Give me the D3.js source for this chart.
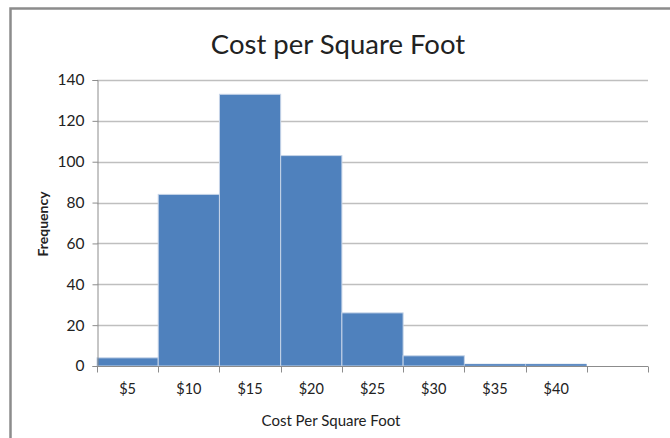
<!DOCTYPE html>
<html>
<head>
<meta charset="utf-8">
<script src="https://cdn.jsdelivr.net/npm/d3@7"></script>
<style>
  body { margin: 0; background: #fff; }
  svg text { font-family: Lato, "Open Sans", sans-serif; fill: #222; }
</style>
</head>
<body>
<div id="main"></div>
<script>
const Width = 670, Height = 438;

// data
const categories = ["$5", "$10", "$15", "$20", "$25", "$30", "$35", "$40", ""];
const counts = [4, 84, 133, 103, 26, 5, 1, 1, 0];
const yTicks = [0, 20, 40, 60, 80, 100, 120, 140];

const svg = d3.select("#main")
    .append("svg")
    .attr("width", Width)
    .attr("height", Height)
;

// outer frame (only top and left show in the shot)
svg.append("path")
    .attr("d", `M10.5,${Height} V8.5 H${Width}`)
    .attr("fill", "none")
    .attr("stroke", "#8c8c8c")
    .attr("stroke-width", 2.5);

const margin = {left: 97, top: 80, right: 22, bottom: 72};

let Xscale = d3.scaleBand().domain(categories).range([margin.left, Width - margin.right]).padding(0);
let Yscale = d3.scaleLinear().domain([0, 140]).range([Height - margin.bottom, margin.top]);

// gridlines
svg.append("g").selectAll("line").data(yTicks.slice(1)).enter().append("line")
    .attr("x1", margin.left).attr("x2", Width - margin.right)
    .attr("y1", d => Math.round(Yscale(d)) + 0.5).attr("y2", d => Math.round(Yscale(d)) + 0.5)
    .attr("stroke", "#bfbfbf").attr("stroke-width", 1.3);

// bars
svg.append("g").selectAll("rect").data(counts).enter().append("rect")
    .attr("x", (d, i) => Xscale(categories[i]))
    .attr("y", d => Yscale(d))
    .attr("width", Xscale.bandwidth())
    .attr("height", d => Yscale(0) - Yscale(d))
    .attr("fill", "#4f81bd")
    .attr("stroke", d => d > 0 ? "#c6d4e8" : "none")
    .attr("stroke-width", d => d > 2 ? 1 : 0.4);

// y axis
let yAxis = svg.append("g")
    .attr("transform", `translate(${margin.left + 0.5},0)`)
    .call(d3.axisLeft(Yscale).tickValues(yTicks).tickSize(5).tickPadding(8));
yAxis.select(".domain").attr("stroke", "#8c8c8c");
yAxis.selectAll(".tick line").attr("stroke", "#8c8c8c");
yAxis.selectAll("text").style("font-size", "15.5px").attr("fill", "#222");

// x axis: ticks on the band edges, labels in the middle
let xAxis = svg.append("g")
    .attr("transform", `translate(0, ${Math.round(Yscale(0)) + 0.5})`)
    .call(d3.axisBottom(Xscale).tickSize(0).tickPadding(17));
xAxis.select(".domain").attr("stroke", "#8c8c8c").attr("d", `M${margin.left},0H${Width - margin.right}`);
xAxis.selectAll("text").style("font-size", "14.5px").attr("fill", "#222");

let edges = categories.map(c => Xscale(c)).concat([Xscale.range()[1]]);
xAxis.append("g").selectAll("line").data(edges).enter().append("line")
    .attr("x1", d => Math.round(d) + 0.5).attr("x2", d => Math.round(d) + 0.5)
    .attr("y1", 0).attr("y2", 6)
    .attr("stroke", "#8c8c8c");

// titles
svg.append("text")
    .attr("x", 338).attr("y", 54)
    .attr("text-anchor", "middle")
    .style("font-size", "27.5px")
    .text("Cost per Square Foot");

svg.append("text")
    .attr("x", 331).attr("y", 426)
    .attr("text-anchor", "middle")
    .style("font-size", "15px")
    .text("Cost Per Square Foot");

svg.append("text")
    .attr("transform", "translate(48,224) rotate(-90)")
    .attr("text-anchor", "middle")
    .style("font-size", "14px")
    .style("font-weight", "bold")
    .text("Frequency");
</script>
</body>
</html>
